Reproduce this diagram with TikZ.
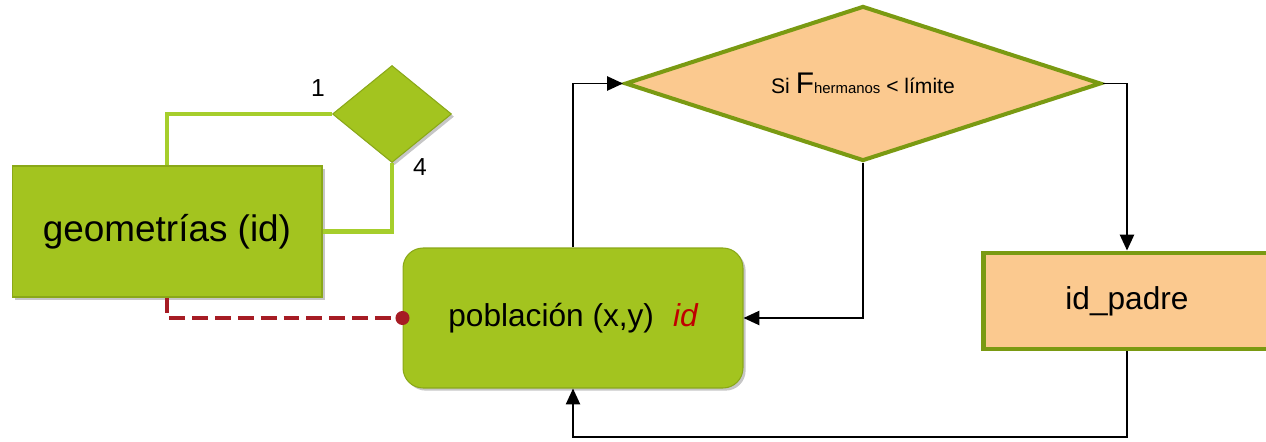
\documentclass[tikz,border=0pt]{standalone}
\usepackage{fontspec}
\setmainfont{Liberation Sans}
\usetikzlibrary{shapes.geometric,arrows.meta,shadows}
\definecolor{verde}{RGB}{163,196,31}
\definecolor{verdeborde}{RGB}{138,168,24}
\definecolor{verdeclaro}{RGB}{166,206,44}
\definecolor{oliva}{RGB}{122,154,18}
\definecolor{naranja}{RGB}{251,201,143}
\definecolor{rojo}{RGB}{166,28,36}
\definecolor{rojoid}{RGB}{192,0,0}
\begin{document}
\begin{tikzpicture}[x=0.02cm,y=-0.02cm,
caja/.style={draw=verdeborde,fill=verde,line width=0.6pt,drop shadow={shadow xshift=1.5pt,shadow yshift=-1.5pt,opacity=0.45}},
decision/.style={diamond,draw=oliva,fill=naranja,line width=2.3pt,inner sep=0pt},
enlace/.style={draw=verdeclaro,line width=2.3pt},
flecha/.style={-{Triangle[length=9pt,width=8pt]},line width=1.1pt},
cardinal/.style={font=\fontsize{14}{16}\selectfont}]
\pgfmathsetmacro{\yret}{437}
\clip(0,0)rectangle(1266,442);
%
\node[caja,minimum width=6.2cm,minimum height=2.62cm,font=\fontsize{21}{24}\selectfont](geom)at(167,231.5){geometrías (id)};
\node[caja,diamond,aspect=1.23,minimum width=2.38cm,minimum height=1.94cm,inner sep=0pt](rombo)at(392,114){};
\node[cardinal](uno)at(318,88){1};
\node[cardinal](cuatro)at(420,167){4};
\draw[enlace](geom.north)|-(rombo.west);
\draw[enlace](geom.east)-|(rombo.south);
%
\node[caja,rounded corners=0.4cm,minimum width=6.8cm,minimum height=2.8cm,font=\fontsize{18}{21}\selectfont](pob)at(573,318){población (x,y)\hspace{0.6em}\textcolor{rojoid}{\itshape id}};
\draw[rojo,line width=2.3pt,dash pattern=on 9pt off 4pt](geom.south)|-(pob.west);
\fill[rojo](pob.west)circle(4pt);
%
\node[decision,aspect=3.07,minimum width=9.52cm,minimum height=3.1cm,font=\fontsize{12}{14}\selectfont](cond)at(863,83.5){Si {\fontsize{17}{17}\selectfont F}{\fontsize{8.5}{10}\selectfont hermanos} < límite};
\node[draw=oliva,fill=naranja,line width=2.8pt,minimum width=5.76cm,minimum height=1.92cm,font=\fontsize{18}{21}\selectfont](padre)at(1127,301){id\_padre};
%
\draw[flecha](pob.north)|-(cond.west);
\draw[flecha](cond.south)|-(pob.east);
\draw[flecha](cond.east)-|(padre.north);
\coordinate(retorno)at(1127,\yret);
\draw[flecha](padre.south)--(retorno)-|(pob.south);
\end{tikzpicture}
\end{document}
